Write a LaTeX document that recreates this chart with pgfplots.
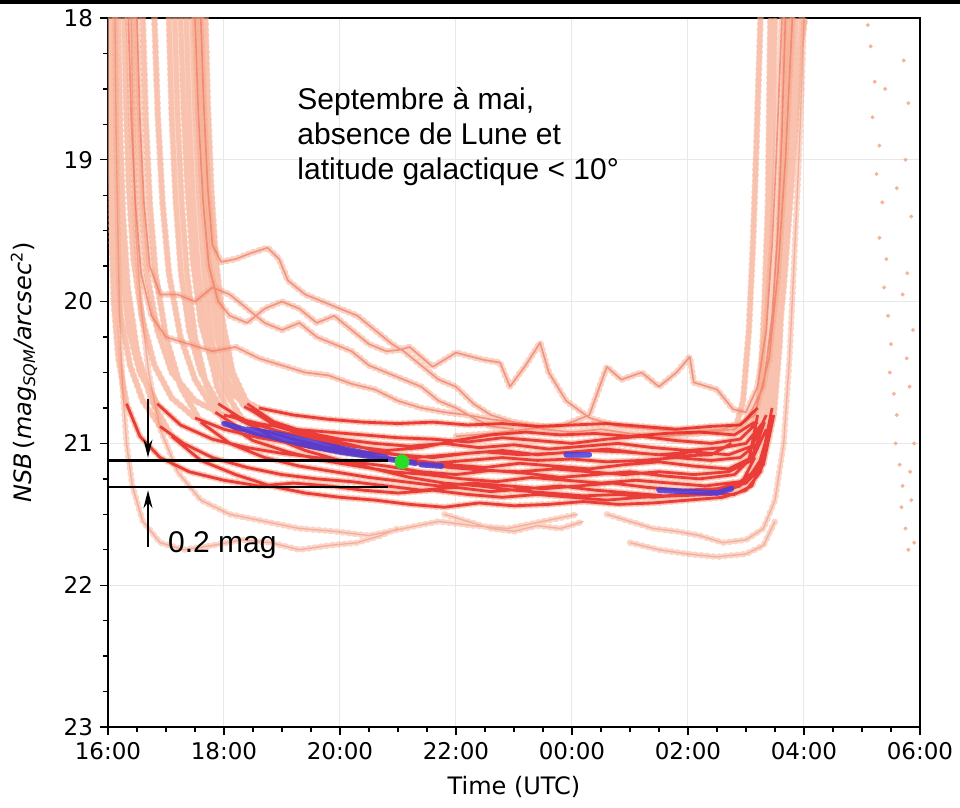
\documentclass[border=0pt]{standalone}
\usepackage{fontspec}
\setmainfont{DejaVu Sans}
\newfontfamily\annot{Liberation Sans}
\usepackage{pgfplots}
\pgfplotsset{compat=1.18}
\usepackage{pgfplotstable}
\usetikzlibrary{arrows.meta}

\definecolor{lightc}{RGB}{245,165,135}
\definecolor{redc}{RGB}{232,28,28}
\definecolor{midc}{RGB}{238,115,95}
\definecolor{bluec}{RGB}{70,60,225}
\definecolor{greenc}{RGB}{40,220,40}
\definecolor{gridc}{RGB}{232,232,232}

% main night tracks (h = hours since 00:00 of the evening day, v = NSB)
\pgfplotstableread{
h v
16.02 18.0
16.05 18.6
16.09 19.2
16.14 19.7
16.22 20.1
16.38 20.45
16.6 20.7
16.9 20.88
17.3 21.0
17.8 21.1
18.4 21.17
19.0 21.22
19.6 21.25
20.2 21.27
20.8 21.3
21.4 21.33
22.0 21.31
22.6 21.34
23.2 21.32
23.8 21.3
24.4 21.33
25.0 21.35
25.6 21.37
26.2 21.35
26.8 21.36
27.1 21.3
27.3 21.1
27.42 20.7
27.5 20.2
27.56 19.6
27.62 19.0
27.67 18.4
27.7 18.0
nan nan
16.1 18.0
16.13 18.7
16.17 19.3
16.24 19.8
16.36 20.2
16.55 20.5
16.85 20.72
17.25 20.87
17.8 20.97
18.4 21.03
19.0 21.07
19.6 21.1
20.2 21.13
20.8 21.16
21.4 21.2
22.0 21.22
22.6 21.19
23.2 21.21
23.8 21.24
24.4 21.22
25.0 21.2
25.6 21.23
26.2 21.25
26.8 21.22
27.05 21.12
27.2 20.8
27.3 20.3
27.38 19.7
27.44 19.0
27.5 18.0
nan nan
16.18 18.0
16.21 18.8
16.26 19.4
16.34 19.9
16.5 20.35
16.75 20.7
17.1 20.95
17.6 21.12
18.2 21.22
18.8 21.3
19.4 21.35
20.0 21.38
20.6 21.4
21.2 21.43
21.8 21.45
22.4 21.42
23.0 21.44
23.6 21.43
24.2 21.41
24.8 21.43
25.4 21.42
26.0 21.4
26.6 21.38
27.0 21.33
27.25 21.2
27.4 20.95
27.5 20.5
27.58 19.9
27.65 19.2
27.7 18.6
27.74 18.0
nan nan
16.28 18.0
16.31 18.6
16.36 19.2
16.44 19.7
16.58 20.1
16.8 20.45
17.1 20.68
17.5 20.82
18.0 20.9
18.6 20.96
19.2 21.0
19.8 21.03
20.4 21.06
21.0 21.08
21.6 21.1
22.2 21.07
22.8 21.05
23.4 21.08
24.0 21.06
24.6 21.04
25.2 21.07
25.8 21.09
26.4 21.08
26.75 21.0
26.95 20.7
27.05 20.2
27.12 19.6
27.18 18.9
27.25 18.0
nan nan
16.45 18.0
16.5 18.7
16.57 19.3
16.67 19.8
16.85 20.2
17.1 20.5
17.5 20.7
18.0 20.8
18.6 20.86
19.2 20.9
19.8 20.92
20.4 20.94
21.0 20.96
21.6 20.97
22.2 20.99
22.8 20.96
23.4 20.98
24.0 21.0
24.6 20.97
25.2 20.95
25.8 20.98
26.4 21.0
26.9 20.97
27.2 20.85
27.4 20.5
27.52 20.0
27.6 19.4
27.67 18.7
27.72 18.0
nan nan
16.8 18.0
16.86 18.7
16.94 19.3
17.05 19.8
17.25 20.25
17.5 20.55
17.85 20.78
18.3 20.9
18.9 20.98
19.5 21.03
20.1 21.07
20.7 21.1
21.3 21.12
21.9 21.15
22.5 21.17
23.1 21.14
23.7 21.16
24.3 21.18
24.9 21.15
25.5 21.13
26.1 21.16
26.7 21.18
27.1 21.1
27.32 20.85
27.45 20.4
27.55 19.8
27.62 19.1
27.68 18.4
27.71 18.0
nan nan
17.15 18.0
17.2 18.7
17.27 19.3
17.36 19.8
17.5 20.25
17.7 20.6
18.0 20.85
18.5 20.98
19.1 21.06
19.7 21.12
20.3 21.16
20.9 21.2
21.5 21.22
22.1 21.25
22.7 21.27
23.3 21.24
23.9 21.26
24.5 21.28
25.1 21.26
25.7 21.28
26.3 21.3
26.9 21.27
27.2 21.18
27.4 20.9
27.52 20.4
27.6 19.7
27.68 19.0
27.74 18.4
27.78 18.0
nan nan
17.25 18.0
17.3 18.6
17.37 19.2
17.46 19.7
17.6 20.15
17.8 20.45
18.1 20.65
18.6 20.75
19.2 20.8
19.8 20.83
20.4 20.85
21.0 20.86
21.6 20.85
22.2 20.87
22.8 20.86
23.4 20.88
24.0 20.87
24.6 20.86
25.2 20.88
25.8 20.9
26.4 20.88
26.9 20.87
27.2 20.75
27.42 20.4
27.55 19.9
27.64 19.3
27.72 18.6
27.78 18.0
nan nan
17.35 18.0
17.4 18.7
17.47 19.3
17.56 19.8
17.7 20.25
17.88 20.6
18.1 20.8
18.6 20.9
19.2 20.97
19.8 21.03
20.4 21.08
21.0 21.12
21.6 21.14
22.2 21.12
22.8 21.1
23.4 21.12
24.0 21.11
24.6 21.13
25.2 21.12
25.8 21.1
26.4 21.12
26.9 21.1
27.2 21.0
27.4 20.7
27.52 20.2
27.6 19.6
27.67 18.9
27.72 18.3
27.75 18.0
nan nan
17.45 18.0
17.5 18.7
17.57 19.3
17.66 19.8
17.8 20.3
18.0 20.62
18.3 20.82
18.8 20.95
19.4 21.05
20.0 21.12
20.6 21.18
21.2 21.24
21.8 21.28
22.4 21.3
23.0 21.33
23.6 21.35
24.2 21.37
24.8 21.36
25.4 21.38
26.0 21.36
26.5 21.34
27.0 21.28
27.3 21.15
27.48 20.8
27.58 20.3
27.66 19.6
27.73 18.9
27.8 18.3
27.84 18.0
nan nan
17.55 18.0
17.6 18.7
17.67 19.3
17.75 19.8
17.88 20.25
18.05 20.55
18.35 20.74
18.8 20.84
19.4 20.92
20.0 20.97
20.6 21.0
21.2 21.02
21.8 21.0
22.4 21.03
23.0 21.01
23.6 21.04
24.2 21.02
24.8 21.0
25.4 21.03
26.0 21.05
26.6 21.03
27.0 21.0
27.3 20.85
27.5 20.5
27.65 19.9
27.78 19.2
27.88 18.6
27.96 18.0
nan nan
17.62 18.0
17.66 18.6
17.72 19.2
17.8 19.7
17.92 20.15
18.1 20.5
18.4 20.72
18.9 20.86
19.5 20.96
20.1 21.04
20.7 21.1
21.3 21.14
21.9 21.17
22.5 21.19
23.1 21.2
23.7 21.18
24.3 21.2
24.9 21.22
25.5 21.2
26.1 21.22
26.7 21.2
27.1 21.12
27.35 20.9
27.5 20.5
27.62 19.9
27.72 19.2
27.8 18.6
27.86 18.0
nan nan
17.05 18.0
17.1 18.7
17.17 19.3
17.26 19.8
17.4 20.2
17.6 20.5
17.9 20.72
18.4 20.85
19.0 20.92
19.6 20.97
20.2 21.02
20.8 21.05
21.4 21.03
22.0 20.98
22.6 20.94
23.2 20.92
23.8 20.94
24.4 20.93
25.0 20.95
25.6 20.93
26.2 20.92
26.8 20.94
27.15 20.85
27.38 20.55
27.5 20.1
27.58 19.5
27.64 18.8
27.68 18.0
nan nan
16.6 18.0
16.65 18.7
16.72 19.3
16.82 19.8
17.0 20.25
17.25 20.6
17.6 20.85
18.1 21.0
18.7 21.1
19.3 21.16
19.9 21.2
20.5 21.24
21.1 21.27
21.7 21.3
22.3 21.28
22.9 21.3
23.5 21.32
24.1 21.3
24.7 21.28
25.3 21.31
25.9 21.33
26.5 21.32
27.0 21.27
27.28 21.1
27.45 20.75
27.56 20.2
27.64 19.5
27.7 18.8
27.75 18.0
nan nan
17.68 18.0
17.72 18.6
17.78 19.2
17.86 19.7
17.98 20.15
18.15 20.5
18.45 20.76
18.9 20.88
19.5 20.95
20.1 21.0
20.7 21.06
21.3 21.1
21.9 21.08
22.5 21.06
23.1 21.08
23.7 21.07
24.3 21.05
24.9 21.06
25.5 21.08
26.1 21.06
26.7 21.08
27.1 21.02
27.35 20.8
27.5 20.3
27.62 19.7
27.72 19.0
27.85 18.4
28.02 18.0
nan nan
16.01 18.0
16.03 18.8
16.06 19.5
16.1 20.0
16.18 20.4
16.32 20.72
16.55 20.95
16.9 21.1
17.4 21.2
18.0 21.26
18.6 21.3
19.2 21.28
19.8 21.3
20.4 21.33
21.0 21.35
21.6 21.33
22.2 21.36
22.8 21.38
23.4 21.36
24.0 21.38
24.6 21.4
25.2 21.38
25.8 21.37
26.4 21.36
26.9 21.3
27.15 21.1
27.25 20.6
27.32 20.0
27.38 19.3
27.42 18.0
}\maintracks

% brighter (upper) nights
\pgfplotstableread{
h v
17.6 18.0
17.65 18.6
17.72 19.2
17.8 19.6
17.95 19.72
18.2 19.7
18.45 19.66
18.75 19.62
18.95 19.7
19.1 19.85
19.4 19.95
19.7 20.0
20.0 20.05
20.3 20.1
20.6 20.2
20.9 20.3
21.1 20.35
21.4 20.45
21.7 20.55
22.0 20.6
22.3 20.72
22.6 20.8
23.0 20.85
23.5 20.9
24.0 20.92
24.5 20.9
25.0 20.93
25.6 20.95
26.2 20.93
26.8 20.9
27.15 20.8
27.4 20.4
27.55 19.8
27.68 19.0
27.8 18.0
nan nan
17.5 18.0
17.56 18.7
17.64 19.3
17.74 19.75
17.9 20.0
18.1 20.1
18.4 20.15
18.7 20.05
19.0 20.0
19.3 20.05
19.6 20.15
19.9 20.1
20.2 20.2
20.5 20.3
20.8 20.35
21.03 20.34
21.2 20.32
21.6 20.46
22.0 20.36
22.47 20.41
22.76 20.43
22.93 20.6
23.2 20.45
23.45 20.29
23.6 20.5
23.9 20.7
24.3 20.82
24.8 20.88
25.4 20.9
26.0 20.92
26.6 20.9
27.0 20.85
27.3 20.6
27.45 20.1
27.55 19.5
27.62 18.8
27.68 18.0
nan nan
16.35 18.0
16.4 18.7
16.47 19.3
16.57 19.8
16.75 20.1
17.0 20.25
17.4 20.3
17.8 20.35
18.2 20.32
18.6 20.4
19.0 20.45
19.4 20.5
19.8 20.52
20.2 20.58
20.6 20.62
21.0 20.7
21.4 20.75
21.8 20.78
22.2 20.8
22.6 20.83
23.0 20.85
23.5 20.88
nan nan
16.5 18.0
16.55 18.7
16.62 19.3
16.72 19.75
16.9 19.95
17.2 19.95
17.5 20.0
17.8 19.9
18.1 19.95
18.4 20.05
18.7 20.15
19.0 20.2
19.3 20.15
19.6 20.25
19.9 20.3
20.2 20.35
20.5 20.45
20.8 20.5
21.1 20.55
21.4 20.6
21.7 20.7
22.0 20.75
22.3 20.82
22.6 20.88
23.0 20.9
nan nan
22.0 20.95
22.6 20.93
23.2 20.9
23.8 20.88
24.3 20.8
24.6 20.46
24.85 20.55
25.2 20.5
25.5 20.6
25.8 20.5
26.03 20.39
26.1 20.57
26.5 20.62
26.78 20.76
27.0 20.78
27.2 20.6
27.35 20.2
27.45 19.6
27.52 19.0
27.58 18.4
27.62 18.0
}\uppertracks

% darker (lower) nights, sparse
\pgfplotstableread{
h v
16.4 18.0
16.43 18.8
16.48 19.5
16.56 20.0
16.7 20.5
16.9 20.9
17.2 21.2
17.6 21.4
18.1 21.5
18.7 21.55
19.3 21.6
19.9 21.62
20.5 21.65
21.1 21.6
21.7 21.55
22.3 21.58
22.9 21.6
23.5 21.55
24.1 21.5
nan nan
16.12 18.0
16.14 18.8
16.17 19.5
16.2 20.1
16.25 20.6
16.32 21.0
16.42 21.3
16.6 21.55
16.9 21.7
17.3 21.75
17.8 21.72
18.3 21.68
18.8 21.7
19.3 21.75
19.8 21.72
20.3 21.7
20.7 21.65
21.0 21.6
nan nan
21.8 21.5
22.2 21.55
22.6 21.6
23.0 21.62
23.4 21.58
23.8 21.6
24.2 21.55
nan nan
24.6 21.5
25.0 21.55
25.4 21.6
25.8 21.62
26.2 21.65
26.6 21.7
27.0 21.68
27.3 21.6
27.5 21.4
27.65 21.0
27.75 20.4
27.82 19.8
27.9 19.1
27.96 18.5
28.0 18.0
nan nan
25.0 21.7
25.5 21.75
26.0 21.78
26.5 21.8
27.0 21.78
27.3 21.72
27.5 21.55
}\lowertracks

% densest parts
\pgfplotstableread{
h v
18.0 20.86
18.5 20.92
19.0 20.97
19.5 21.02
20.0 21.06
20.5 21.09
21.0 21.12
21.3 21.14
nan nan
18.4 20.9
19.0 20.94
19.6 21.0
20.2 21.05
20.8 21.1
nan nan
21.4 21.15
21.75 21.16
nan nan
23.9 21.08
24.3 21.08
nan nan
25.5 21.33
26.0 21.34
26.5 21.35
26.75 21.32
}\densest

% sparse points after 05:00
\pgfplotstableread{
h v
29.1 18.05
29.15 18.2
29.22 18.45
29.4 18.5
29.18 18.7
29.3 18.9
29.25 19.1
29.6 19.2
29.35 19.3
29.3 19.55
29.42 19.7
29.38 19.9
29.7 19.95
29.45 20.1
29.5 20.3
29.77 20.4
29.48 20.5
29.55 20.65
29.6 20.8
29.58 21.0
29.65 21.15
29.83 21.2
29.7 21.3
29.68 21.45
29.75 21.6
29.8 21.75
29.72 18.3
29.8 18.6
29.75 19.0
29.85 19.4
29.78 19.8
29.88 20.2
29.82 20.6
29.9 21.0
29.85 21.4
29.9 21.7
}\latepts

\begin{document}
\begin{tikzpicture}
\useasboundingbox (-54pt,-40.5pt) rectangle (426pt,363.5pt);
\fill[black] (-54pt,361.5pt) rectangle (426pt,363.5pt);
\begin{axis}[
  at={(0,0)}, anchor=south west,
  scale only axis, width=406pt, height=354.5pt,
  xmin=16, xmax=30, ymin=18, ymax=23, y dir=reverse,
  xtick={16,18,...,30},
  xticklabels={16:00,18:00,20:00,22:00,00:00,02:00,04:00,06:00},
  ytick={18,19,20,21,22,23},
  minor x tick num=3, minor y tick num=3,
  xtick pos=lower, ytick pos=left,
  tick align=outside,
  major tick length=4pt, minor tick length=2.5pt,
  tick style={black, line width=0.7pt},
  axis line style={line width=0.8pt},
  grid=major, major grid style={gridc, line width=0.5pt},
  /pgf/number format/assume math mode=true,
  tick label style={font=\fontsize{11.5}{13}\selectfont},
  xlabel={Time (UTC)},
  xlabel style={font=\fontsize{12}{14}\selectfont, at={(axis description cs:0.5,0)}, anchor=north, inner sep=0pt, yshift=-24.5pt},
  ylabel={\textit{NSB}\,(\textit{mag}\textsubscript{\textit{SQM}}\textit{/arcsec}\textsuperscript{2})},
  ylabel style={font=\fontsize{12}{14}\selectfont, at={(axis description cs:0,0.5)}, anchor=center, yshift=42pt},
]
\addplot[lightc, opacity=0.5, line width=3.4pt, line join=round, line cap=round, dash pattern=on 0.6pt off 2.2pt, unbounded coords=jump, forget plot] table[x=h,y=v] {\maintracks};
\addplot[lightc, opacity=0.35, line width=2.4pt, line join=round, unbounded coords=jump, forget plot] table[x=h,y=v] {\maintracks};
\addplot[lightc, opacity=0.5, line width=3.4pt, line join=round, line cap=round, dash pattern=on 0.6pt off 2.2pt, unbounded coords=jump, forget plot] table[x=h,y=v] {\uppertracks};
\addplot[lightc, opacity=0.45, line width=3.2pt, line join=round, line cap=round, dash pattern=on 0.6pt off 2.4pt, unbounded coords=jump, forget plot] table[x=h,y=v] {\lowertracks};
\addplot[midc, opacity=0.65, line width=0.8pt, line join=round, unbounded coords=jump, forget plot] table[x=h,y=v] {\uppertracks};
\addplot[midc, opacity=0.4, line width=0.7pt, line join=round, unbounded coords=jump, forget plot] table[x=h,y=v] {\lowertracks};
\addplot[redc, opacity=0.8, line width=1.4pt, line join=round, unbounded coords=jump, restrict y to domain=20.72:21.47, forget plot] table[x=h,y=v] {\maintracks};
\addplot[bluec, opacity=0.85, line width=2.8pt, line join=round, line cap=round, unbounded coords=jump, forget plot] table[x=h,y=v] {\densest};
\addplot[only marks, mark=*, mark size=0.8pt, lightc, opacity=0.75, forget plot] table[x=h,y=v] {\latepts};
% annotation
\addplot[black, line width=1.1pt, forget plot] coordinates {(16,21.12) (20.82,21.12)};
\addplot[black, line width=1.1pt, forget plot] coordinates {(16,21.31) (20.82,21.31)};
\addplot[black, line width=0.8pt, -{Stealth[length=9pt,width=4.5pt]}, forget plot] coordinates {(16.69,20.69) (16.69,21.1)};
\addplot[black, line width=0.8pt, -{Stealth[length=9pt,width=4.5pt]}, forget plot] coordinates {(16.69,21.73) (16.69,21.33)};
\addplot[only marks, mark=*, mark size=3.5pt, mark options={fill=greenc, draw=greenc}, forget plot] coordinates {(21.07,21.13)};
\node[anchor=north west, inner sep=0pt, align=left, font=\annot\fontsize{15}{17.5}\selectfont] at (axis cs:19.26,18.49) {Septembre à mai,\\absence de Lune et\\latitude galactique < 10°};
\node[anchor=base west, inner sep=0pt, font=\annot\fontsize{15}{18}\selectfont] at (axis cs:17.03,21.77) {0.2 mag};
\end{axis}
\end{tikzpicture}
\end{document}
